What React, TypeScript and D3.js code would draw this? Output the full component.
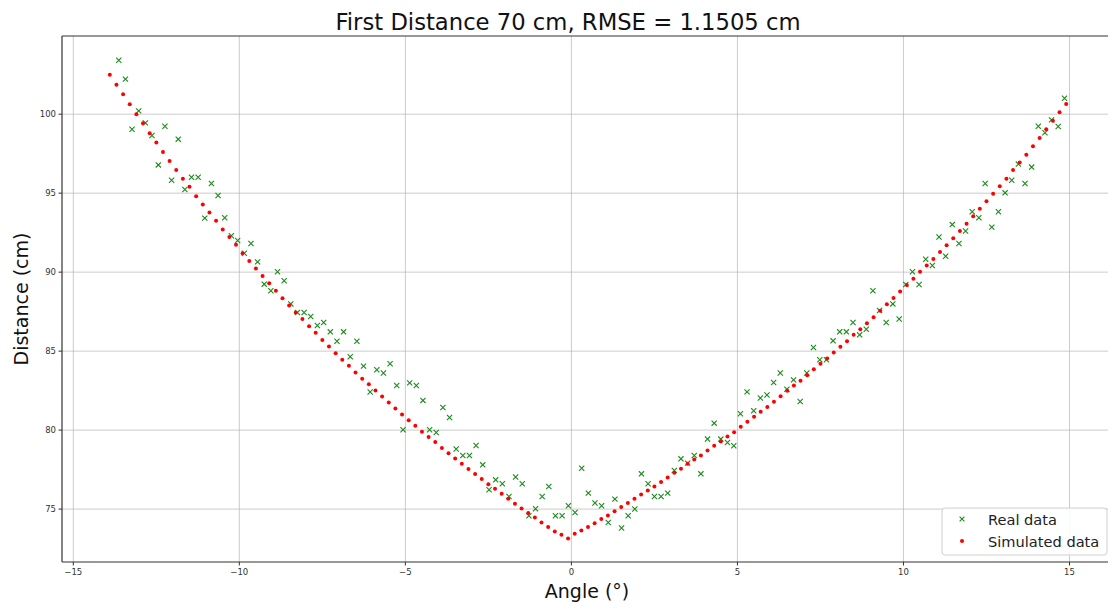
import React from 'react';
import * as d3 from 'd3';

// simulated curve (red dots)
const simAngles = [
  -13.9, -13.7, -13.5, -13.3, -13.1, -12.9, -12.7, -12.5, -12.3, -12.1,
  -11.9, -11.7, -11.5, -11.3, -11.1, -10.9, -10.7, -10.5, -10.3, -10.1,
  -9.9, -9.7, -9.5, -9.3, -9.1, -8.9, -8.7, -8.5, -8.3, -8.1,
  -7.9, -7.7, -7.5, -7.3, -7.1, -6.9, -6.7, -6.5, -6.3, -6.1,
  -5.9, -5.7, -5.5, -5.3, -5.1, -4.9, -4.7, -4.5, -4.3, -4.1,
  -3.9, -3.7, -3.5, -3.3, -3.1, -2.9, -2.7, -2.5, -2.3, -2.1,
  -1.9, -1.7, -1.5, -1.3, -1.1, -0.9, -0.7, -0.5, -0.3, -0.1,
  0.1, 0.3, 0.5, 0.7, 0.9, 1.1, 1.3, 1.5, 1.7, 1.9,
  2.1, 2.3, 2.5, 2.7, 2.9, 3.1, 3.3, 3.5, 3.7, 3.9,
  4.1, 4.3, 4.5, 4.7, 4.9, 5.1, 5.3, 5.5, 5.7, 5.9,
  6.1, 6.3, 6.5, 6.7, 6.9, 7.1, 7.3, 7.5, 7.7, 7.9,
  8.1, 8.3, 8.5, 8.7, 8.9, 9.1, 9.3, 9.5, 9.7, 9.9,
  10.1, 10.3, 10.5, 10.7, 10.9, 11.1, 11.3, 11.5, 11.7, 11.9,
  12.1, 12.3, 12.5, 12.7, 12.9, 13.1, 13.3, 13.5, 13.7, 13.9,
  14.1, 14.3, 14.5, 14.7, 14.9,
];
const simDistances = [
  102.5, 101.87, 101.27, 100.63, 100.0, 99.43, 98.8, 98.2, 97.61, 97.04,
  96.46, 95.92, 95.4, 94.81, 94.28, 93.77, 93.25, 92.7, 92.22, 91.73,
  91.2, 90.71, 90.23, 89.75, 89.3, 88.82, 88.35, 87.89, 87.44, 87.03,
  86.58, 86.16, 85.71, 85.29, 84.87, 84.45, 84.07, 83.65, 83.25, 82.91,
  82.51, 82.13, 81.75, 81.37, 80.99, 80.63, 80.27, 79.89, 79.56, 79.24,
  78.86, 78.54, 78.2, 77.87, 77.53, 77.22, 76.9, 76.58, 76.28, 75.97,
  75.65, 75.34, 75.04, 74.75, 74.47, 74.15, 73.86, 73.58, 73.37, 73.14,
  73.44, 73.65, 73.86, 74.11, 74.37, 74.59, 74.87, 75.13, 75.38, 75.65,
  75.92, 76.18, 76.43, 76.71, 77.0, 77.3, 77.55, 77.87, 78.14, 78.39,
  78.71, 79.01, 79.28, 79.59, 79.87, 80.21, 80.53, 80.84, 81.16, 81.47,
  81.79, 82.15, 82.49, 82.82, 83.12, 83.48, 83.86, 84.2, 84.53, 84.91,
  85.27, 85.63, 86.03, 86.39, 86.77, 87.15, 87.55, 87.97, 88.37, 88.77,
  89.18, 89.58, 90.02, 90.42, 90.84, 91.27, 91.71, 92.15, 92.61, 93.06,
  93.54, 94.01, 94.49, 94.97, 95.44, 95.92, 96.46, 96.94, 97.44, 97.97,
  98.5, 99.05, 99.59, 100.13, 100.65,
];

// measured points (green x)
const realAngles = [
  -13.63, -13.43, -13.23, -13.03, -12.83, -12.63, -12.44, -12.24, -12.04, -11.84,
  -11.64, -11.44, -11.24, -11.04, -10.84, -10.64, -10.44, -10.24, -10.05, -9.85,
  -9.65, -9.45, -9.25, -9.05, -8.85, -8.65, -8.45, -8.25, -8.05, -7.85,
  -7.65, -7.46, -7.26, -7.06, -6.86, -6.66, -6.46, -6.26, -6.06, -5.86,
  -5.66, -5.46, -5.26, -5.07, -4.87, -4.67, -4.47, -4.27, -4.07, -3.87,
  -3.67, -3.47, -3.27, -3.07, -2.87, -2.67, -2.48, -2.28, -2.08, -1.88,
  -1.68, -1.48, -1.28, -1.08, -0.88, -0.68, -0.48, -0.28, -0.09, 0.11,
  0.31, 0.51, 0.71, 0.91, 1.11, 1.31, 1.51, 1.71, 1.91, 2.11,
  2.31, 2.5, 2.7, 2.9, 3.1, 3.3, 3.5, 3.7, 3.9, 4.1,
  4.3, 4.5, 4.7, 4.89, 5.09, 5.29, 5.49, 5.69, 5.89, 6.09,
  6.29, 6.49, 6.69, 6.89, 7.09, 7.29, 7.48, 7.68, 7.88, 8.08,
  8.28, 8.48, 8.68, 8.88, 9.08, 9.28, 9.48, 9.68, 9.87, 10.07,
  10.27, 10.47, 10.67, 10.87, 11.07, 11.27, 11.47, 11.67, 11.87, 12.07,
  12.27, 12.46, 12.66, 12.86, 13.06, 13.26, 13.46, 13.66, 13.86, 14.06,
  14.26, 14.46, 14.66, 14.85,
];
const realDistances = [
  103.42, 102.22, 99.05, 100.21, 99.45, 98.65, 96.79, 99.24, 95.82, 98.42,
  95.23, 96.01, 96.01, 93.42, 95.61, 94.85, 93.44, 92.3, 92.0, 91.2,
  91.81, 90.65, 89.24, 88.82, 90.02, 89.45, 87.99, 87.44, 87.44, 87.19,
  86.62, 86.81, 86.22, 85.63, 86.22, 84.64, 85.63, 84.05, 82.41, 83.82,
  83.61, 84.2, 82.82, 80.02, 82.99, 82.82, 81.88, 80.02, 79.85, 81.43,
  80.8, 78.8, 78.39, 78.39, 79.03, 77.8, 76.22, 76.85, 76.6, 75.8,
  77.03, 76.6, 74.58, 75.02, 75.8, 76.43, 74.58, 74.58, 75.21, 74.78,
  77.59, 76.01, 75.38, 75.21, 74.15, 75.63, 73.8, 74.58, 75.0, 77.23,
  76.6, 75.8, 75.8, 76.01, 77.44, 78.18, 77.91, 78.39, 77.23, 79.43,
  80.44, 79.43, 79.22, 79.01, 81.03, 82.42, 81.22, 82.03, 82.22, 83.01,
  83.61, 82.59, 83.18, 81.81, 83.61, 85.23, 84.45, 84.45, 85.65, 86.22,
  86.22, 86.81, 86.03, 86.39, 88.82, 87.57, 86.81, 87.99, 87.03, 89.22,
  90.02, 89.22, 90.82, 90.42, 92.23, 91.01, 93.01, 91.81, 92.61, 93.82,
  93.44, 95.61, 92.85, 93.82, 95.02, 95.82, 96.84, 95.61, 96.65, 99.24,
  98.82, 99.64, 99.22, 101.01,
];

const xTicks = [-15, -10, -5, 0, 5, 10, 15];
const yTicks = [75, 80, 85, 90, 95, 100];

const W = 1108;
const H = 606;
const left = 62, top = 36, bottom = 562, right = 1114;
const font = 'DejaVu Sans, sans-serif';

const fmt = (v: number) => (v < 0 ? '\u2212' + Math.abs(v) : String(v));

export default function App() {
  const x = d3.scaleLinear().domain([-15.34, 16.34]).range([left, right]);
  const y = d3.scaleLinear().domain([71.65, 104.95]).range([bottom, top]);

  const cross = (cx: number, cy: number, key: string | number, s = 2.6) => (
    <path
      key={key}
      d={`M${cx - s},${cy - s}L${cx + s},${cy + s}M${cx - s},${cy + s}L${cx + s},${cy - s}`}
      stroke="#1a8a1a"
      strokeWidth={1.1}
      fill="none"
    />
  );

  return (
    <svg width={W} height={H} style={{ position: 'absolute', left: 0, top: 0, background: '#fff' }}>
      <rect x={0} y={0} width={W} height={H} fill="#fff" />
      {/* grid */}
      <g stroke="#b0b0b0" strokeOpacity={0.65} strokeWidth={1}>
        {xTicks.map(t => (
          <line key={'gx' + t} x1={x(t)} x2={x(t)} y1={top} y2={bottom} />
        ))}
        {yTicks.map(t => (
          <line key={'gy' + t} x1={left} x2={right} y1={y(t)} y2={y(t)} />
        ))}
      </g>

      {/* points */}
      <g>
        {realAngles.map((a, i) => cross(x(a), y(realDistances[i]), 'r' + i))}
      </g>
      <g fill="#ff0000">
        {simAngles.map((a, i) => (
          <circle key={'s' + i} cx={x(a)} cy={y(simDistances[i])} r={2} />
        ))}
      </g>

      {/* spines */}
      <g stroke="#333" strokeWidth={1.2} fill="none">
        <line x1={left} x2={left} y1={top} y2={bottom} />
        <line x1={left} x2={right} y1={bottom} y2={bottom} />
        <line x1={left} x2={right} y1={top} y2={top} />
      </g>

      {/* ticks */}
      <g fontFamily={font} fontSize={8.5} fill="#333">
        {xTicks.map(t => (
          <g key={'xt' + t}>
            <line x1={x(t)} x2={x(t)} y1={bottom} y2={bottom + 3.5} stroke="#333" />
            <text x={x(t)} y={bottom + 13} textAnchor="middle">{fmt(t)}</text>
          </g>
        ))}
        {yTicks.map(t => (
          <g key={'yt' + t}>
            <line x1={left - 3.5} x2={left} y1={y(t)} y2={y(t)} stroke="#333" />
            <text x={left - 6} y={y(t) + 3} textAnchor="end">{fmt(t)}</text>
          </g>
        ))}
      </g>

      {/* labels */}
      <text x={568} y={30} textAnchor="middle" fontFamily={font} fontSize={22.7} fill="#111">
        First Distance 70 cm, RMSE = 1.1505 cm
      </text>
      <text x={587} y={598} textAnchor="middle" fontFamily={font} fontSize={19} fill="#111">
        Angle (°)
      </text>
      <text
        transform={`translate(28,${(top + bottom) / 2}) rotate(-90)`}
        textAnchor="middle"
        fontFamily={font}
        fontSize={19}
        fill="#111"
      >
        Distance (cm)
      </text>

      {/* legend */}
      <g>
        <rect x={942} y={508} width={165} height={47} rx={3} fill="#fff" fillOpacity={0.85} stroke="#d0d0d0" />
        {cross(962, 519, 'leg1', 2.4)}
        <circle cx={962} cy={541} r={2} fill="#ff0000" />
        <text x={988} y={524.5} fontFamily={font} fontSize={14.6} fill="#222">Real data</text>
        <text x={988} y={546.5} fontFamily={font} fontSize={14.6} fill="#222">Simulated data</text>
      </g>
    </svg>
  );
}
